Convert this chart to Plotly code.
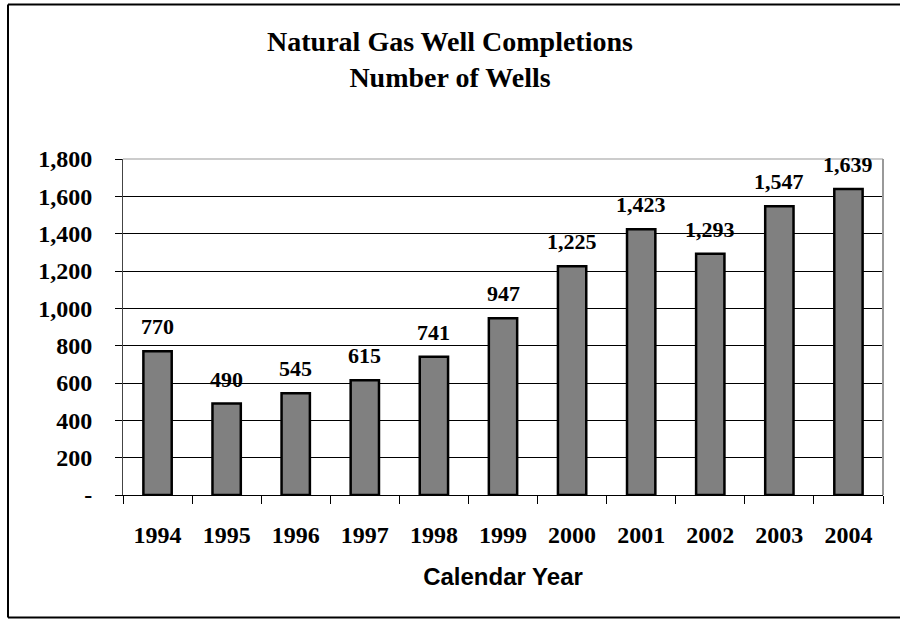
import plotly.graph_objects as go

years = ["1994", "1995", "1996", "1997", "1998", "1999", "2000", "2001", "2002", "2003", "2004"]
wells = [770, 490, 545, 615, 741, 947, 1225, 1423, 1293, 1547, 1639]
ytick_vals = [0, 200, 400, 600, 800, 1000, 1200, 1400, 1600, 1800]
ytick_text = ["-", "200", "400", "600", "800", "1,000", "1,200", "1,400", "1,600", "1,800"]

W, H = 900, 619
L, R, T, B = 123, 883, 159, 495
serif = "Liberation Serif"

fig = go.Figure()
fig.add_trace(go.Bar(
    x=years, y=wells,
    marker=dict(color="#808080", line=dict(color="#000000", width=2.5)),
    width=0.41,
    hoverinfo="x+y",
))

# value labels above bars (category axis: annotations use category index)
for i, v in enumerate(wells):
    fig.add_annotation(
        x=i, y=v, xref="x", yref="y",
        text=f"<b>{v:,}</b>", showarrow=False,
        yanchor="bottom", yshift=10,
        font=dict(family=serif, size=22, color="#000000"),
    )

fig.update_layout(
    width=W, height=H,
    margin=dict(l=L, r=W - R, t=T, b=H - B, pad=0),
    paper_bgcolor="white", plot_bgcolor="white",
    showlegend=False,
    title=dict(
        text="<b>Natural Gas Well Completions<br>Number of Wells</b>",
        font=dict(family=serif, size=28, color="#000000"),
        x=0.5, xanchor="center",
        y=1 - 51 / H, yanchor="middle",
    ),
    xaxis=dict(
        type="category",
        range=[-0.5, len(years) - 0.5],
        tickvals=years, ticktext=[f"<b>{y}</b>" for y in years],
        tickangle=0,
        showgrid=False,
        showline=True, linecolor="#000000", linewidth=1,
        ticks="outside", ticklen=8, tickcolor="#000000",
        tickson="boundaries",
        tickfont=dict(family=serif, size=24, color="#000000"),
        ticklabelstandoff=18,
        title=dict(text="<b>Calendar Year</b>",
                   font=dict(family="Liberation Sans", size=24, color="#000000"),
                   standoff=21),
        fixedrange=True,
    ),
    yaxis=dict(
        range=[0, 1800],
        tickvals=ytick_vals, ticktext=[f"<b>{t}</b>" for t in ytick_text],
        showgrid=True, gridcolor="#000000", gridwidth=1,
        showline=True, linecolor="#444444", linewidth=1,
        ticks="outside", ticklen=7, tickcolor="#000000",
        tickfont=dict(family=serif, size=24, color="#000000"),
        ticklabelstandoff=18,
        zeroline=False,
        fixedrange=True,
    ),
)

# plot area right/top border (gray)
fig.add_shape(type="line", xref="paper", yref="paper", x0=1, x1=1, y0=0, y1=1,
              line=dict(color="#999999", width=2))
fig.add_shape(type="line", xref="paper", yref="paper", x0=0, x1=1, y0=1, y1=1,
              line=dict(color="#999999", width=1))

# outer chart border (top, left, bottom)
def px(x):
    return (x - L) / (R - L)

def py(y):
    return (B - y) / (B - T)

border = dict(color="#000000", width=2)
fig.add_shape(type="line", xref="paper", yref="paper", x0=px(8), x1=px(905), y0=py(4.5), y1=py(4.5), line=border)
fig.add_shape(type="line", xref="paper", yref="paper", x0=px(8), x1=px(8), y0=py(4.5), y1=py(617.5), line=border)
fig.add_shape(type="line", xref="paper", yref="paper", x0=px(8), x1=px(905), y0=py(617.5), y1=py(617.5), line=border)

fig.write_html("out.html", config={"displayModeBar": False},
               post_script="document.body.style.margin='0px';document.body.style.overflow='hidden';")
